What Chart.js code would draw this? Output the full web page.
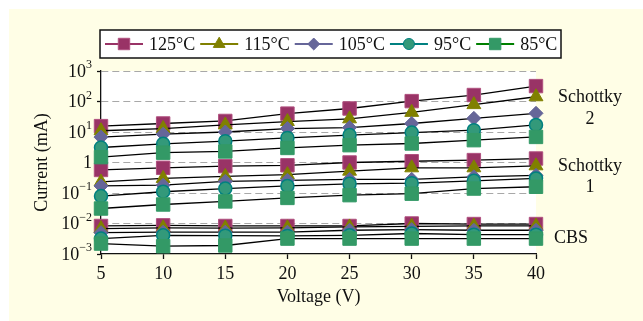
<!DOCTYPE html>
<html>
<head>
<meta charset="utf-8">
<script src="https://cdn.jsdelivr.net/npm/chart.js@4.4.0/dist/chart.umd.min.js"></script>
<style>
  html, body { margin: 0; padding: 0; background: #fff; }
  #wrap { width: 643px; height: 321px; }
</style>
</head>
<body>
<div id="wrap"><canvas id="chart" width="643" height="321"></canvas></div>
<script>
// dados
const voltage = [5, 10, 15, 20, 25, 30, 35, 40];
const temperatures = ['125°C', '115°C', '105°C', '95°C', '85°C'];

// Schottky 2
const schottky2_125 = [15.6, 19, 23, 40, 59, 103, 163, 320];
const schottky2_115 = [11, 13, 17, 22, 27, 44, 79, 143];
const schottky2_105 = [6.8, 8.5, 10, 13, 14, 19, 28, 41];
const schottky2_95 = [3.1, 4.1, 5.0, 6.4, 7.9, 9.6, 11.5, 17];
const schottky2_85 = [1.5, 2.1, 2.3, 3.0, 3.7, 4.2, 5.4, 6.9];

// Schottky 1
const schottky1_125 = [0.57, 0.67, 0.76, 0.81, 1.0, 1.1, 1.2, 1.35];
const schottky1_115 = [0.23, 0.30, 0.35, 0.40, 0.52, 0.67, 0.67, 0.78];
const schottky1_105 = [0.17, 0.18, 0.24, 0.26, 0.28, 0.28, 0.34, 0.38];
const schottky1_95 = [0.079, 0.11, 0.14, 0.17, 0.20, 0.21, 0.25, 0.30];
const schottky1_85 = [0.031, 0.042, 0.053, 0.069, 0.085, 0.095, 0.14, 0.16];

// CBS
const cbs_125 = [0.0083, 0.0087, 0.0083, 0.0083, 0.0083, 0.010, 0.0096, 0.0096];
const cbs_115 = [0.0068, 0.0072, 0.0071, 0.0072, 0.0077, 0.0081, 0.0083, 0.0083];
const cbs_105 = [0.0050, 0.0052, 0.0052, 0.0052, 0.0060, 0.0063, 0.0060, 0.0060];
const cbs_95 = [0.0032, 0.0041, 0.0040, 0.0039, 0.0041, 0.0047, 0.0043, 0.0043];
const cbs_85 = [0.0022, 0.0018, 0.0019, 0.0032, 0.0032, 0.0032, 0.0032, 0.0032];

const yTickValues = [1e-3, 1e-2, 1e-1, 1, 10, 100, 1000];
// rótulo = base + expoente (sobrescrito)
const yTickBases = ['10', '10', '10', '1', '10', '10', '10'];
const yTickExponents = ['−3', '−2', '−1', '', '1', '2', '3'];
const xTickValues = [5, 10, 15, 20, 25, 30, 35, 40];
const groupLabels = [['Schottky', '2'], ['Schottky', '1'], ['CBS']];

const groups = [
  [schottky2_125, schottky2_115, schottky2_105, schottky2_95, schottky2_85],
  [schottky1_125, schottky1_115, schottky1_105, schottky1_95, schottky1_85],
  [cbs_125, cbs_115, cbs_105, cbs_95, cbs_85]
];

// estilo de cada temperatura
const styles = [
  { shape: 'rect', radius: 9.5, fill: '#993366', edge: '#b0507f', line: '#993366' },
  { shape: 'triangle', radius: 8, fill: '#808000', edge: '#808000', line: '#808000' },
  { shape: 'rectRot', radius: 7, fill: '#666699', edge: '#666699', line: '#666699' },
  { shape: 'circle', radius: 6.5, fill: '#33997a', edge: '#008080', line: '#008080' },
  { shape: 'rect', radius: 9.5, fill: '#339966', edge: '#339966', line: '#008000' }
];

const FONT = '"Liberation Serif", "Times New Roman", serif';

const datasets = [];
groups.forEach(function(group) {
  group.forEach(function(vals, ti) {
    datasets.push({
      label: temperatures[ti],
      data: voltage.map((v, i) => ({ x: v, y: vals[i] })),
      borderColor: '#000',
      borderWidth: 1.3,
      pointStyle: styles[ti].shape,
      pointRadius: styles[ti].radius,
      pointBackgroundColor: styles[ti].fill,
      pointBorderColor: styles[ti].edge,
      pointBorderWidth: ti === 3 ? 1.5 : 1,
      order: 4 - ti,
      clip: false,
      tension: 0
    });
  });
});

function drawMarker(ctx, st, x, y) {
  ctx.fillStyle = st.fill;
  ctx.strokeStyle = st.edge;
  ctx.lineWidth = 1;
  Chart.helpers.drawPoint(ctx, { pointStyle: st.shape, radius: st.radius * 0.85, borderWidth: 1, rotation: 0 }, x, y);
}

// fundo amarelo e área branca do gráfico
const background = {
  id: 'background',
  beforeDraw(chart) {
    const ctx = chart.ctx, a = chart.chartArea;
    ctx.save();
    ctx.fillStyle = '#fffee6';
    ctx.fillRect(9, 9, chart.width - 9, chart.height - 9);
    ctx.fillStyle = '#ffffff';
    ctx.fillRect(a.left, a.top, a.right - a.left, a.bottom - a.top);
    ctx.restore();
  }
};

// rótulos do eixo y com expoente sobrescrito
const yLabels = {
  id: 'yLabels',
  afterDraw(chart) {
    const ctx = chart.ctx, y = chart.scales.y;
    const right = y.right - 9;
    ctx.save();
    ctx.fillStyle = '#111';
    ctx.textBaseline = 'middle';
    ctx.textAlign = 'left';
    yTickValues.forEach(function(v, i) {
      const py = y.getPixelForValue(v);
      ctx.font = '12px ' + FONT;
      const ew = yTickExponents[i] ? ctx.measureText(yTickExponents[i]).width : 0;
      ctx.font = '18px ' + FONT;
      const bw = ctx.measureText(yTickBases[i]).width;
      const x0 = right - ew - bw;
      ctx.fillText(yTickBases[i], x0, py + 1);
      if (yTickExponents[i]) {
        ctx.font = '12px ' + FONT;
        ctx.fillText(yTickExponents[i], x0 + bw, py - 6);
      }
    });
    ctx.restore();
  }
};

// legenda desenhada à mão (linha colorida + marcador)
const legendBox = {
  id: 'legendBox',
  afterDraw(chart) {
    const ctx = chart.ctx;
    const boxX = 100, boxY = 30, boxH = 28;
    const cy = boxY + boxH / 2;
    ctx.save();
    ctx.font = '18px ' + FONT;
    ctx.textBaseline = 'middle';
    ctx.fillStyle = '#fff';
    ctx.fillRect(boxX, boxY, 461, boxH);
    let x = boxX + 5;
    temperatures.forEach(function(t, i) {
      const st = styles[i];
      ctx.strokeStyle = st.line;
      ctx.lineWidth = 2;
      ctx.beginPath();
      ctx.moveTo(x, cy);
      ctx.lineTo(x + 38, cy);
      ctx.stroke();
      drawMarker(ctx, st, x + 19, cy);
      x += 44;
      ctx.fillStyle = '#111';
      ctx.textAlign = 'left';
      ctx.fillText(t, x, cy + 1);
      x += ctx.measureText(t).width + 5;
    });
    ctx.strokeStyle = '#111';
    ctx.lineWidth = 1.5;
    ctx.strokeRect(boxX, boxY, 461, boxH);
    ctx.restore();
  }
};

// rótulos dos grupos à direita
const groupText = {
  id: 'groupText',
  afterDraw(chart) {
    const ctx = chart.ctx, a = chart.chartArea;
    const cx = a.right + 54;
    const rows = [[97, 119], [166, 187], [238]];
    ctx.save();
    ctx.font = '18px ' + FONT;
    ctx.fillStyle = '#111';
    ctx.textBaseline = 'middle';
    groupLabels.forEach(function(lines, gi) {
      lines.forEach(function(txt, li) {
        ctx.textAlign = gi === 2 ? 'left' : 'center';
        ctx.fillText(txt, gi === 2 ? a.right + 18 : cx, rows[gi][li]);
      });
    });
    ctx.restore();
  }
};

new Chart(document.getElementById('chart').getContext('2d'), {
  type: 'line',
  data: { datasets: datasets },
  plugins: [background, legendBox, groupText, yLabels],
  options: {
    responsive: false,
    animation: false,
    devicePixelRatio: 1,
    layout: { padding: { top: 71, right: 107, bottom: 0, left: 0 } },
    plugins: { legend: { display: false }, tooltip: { enabled: false } },
    scales: {
      x: {
        type: 'linear',
        min: 5,
        max: 40,
        afterBuildTicks: s => { s.ticks = xTickValues.map(v => ({ value: v })); },
        afterFit: s => { s.height = 67; },
        ticks: { color: '#111', font: { family: FONT, size: 18 }, padding: 4, maxRotation: 0 },
        grid: { drawOnChartArea: false, tickLength: 5, tickColor: '#111', tickWidth: 1.3 },
        border: { color: '#111', width: 1.3 },
        title: {
          display: true, text: 'Voltage (V)', color: '#111',
          font: { family: FONT, size: 18, lineHeight: 1.2 },
          padding: { top: 0, bottom: 13 }
        }
      },
      y: {
        type: 'logarithmic',
        min: 1e-3,
        max: 1e3,
        afterBuildTicks: s => { s.ticks = yTickValues.map(v => ({ value: v })); },
        afterFit: s => { s.width = 101; },
        ticks: { display: false },
        grid: {
          color: c => (c.tick && c.tick.value === 1e-3) ? 'rgba(0,0,0,0)' : '#a8a8a8',
          lineWidth: 1,
          tickLength: 4,
          tickColor: '#111',
          tickWidth: 1.3
        },
        border: { color: '#111', width: 1.3, dash: [7, 4] },
        title: {
          display: true, text: 'Current (mA)', color: '#111',
          font: { family: FONT, size: 18, lineHeight: 1.2 },
          padding: { top: 31, bottom: 0 }
        }
      }
    }
  }
});
</script>
</body>
</html>
